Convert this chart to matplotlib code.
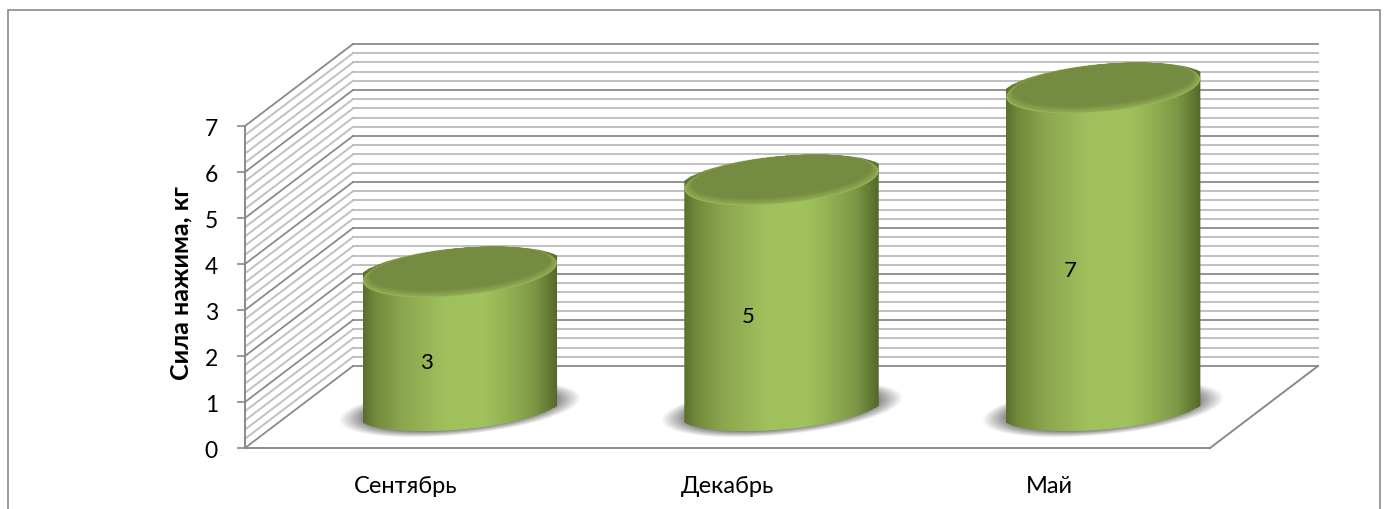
import numpy as np
import matplotlib
matplotlib.use('Agg')
import matplotlib.pyplot as plt
from matplotlib.patches import Polygon, Rectangle
from matplotlib.colors import LinearSegmentedColormap, to_rgb
from matplotlib.transforms import ScaledTranslation

plt.rcParams['font.family'] = ['Lato', 'Noto Sans', 'DejaVu Sans']

months = ['Сентябрь', 'Декабрь', 'Май']
force = [3, 5, 7]
y_ticks = [0, 1, 2, 3, 4, 5, 6, 7]
y_title = 'Сила нажима, кг'

W, H = 1387, 509
# front plane of the 3D box, in pixels
LEFT, RIGHT, BOTTOM, TOP = 245, 1210, 448, 126
DEPTH_X, DEPTH_Y = 108, 82
RX, RY = 97.4, 22.1
RY_TOP = 23.6
TILT = np.radians(5.6)
BEVEL = 3
GRID = '#8a8a8a'
GRID_MINOR = '#c0c0c0'

fig = plt.figure(figsize=(W / 100, H / 100), dpi=100)
ax = fig.add_axes([LEFT / W, (H - BOTTOM) / H, (RIGHT - LEFT) / W, (BOTTOM - TOP) / H])
ax.patch.set_alpha(0)

# data units per pixel
ux = len(months) / (RIGHT - LEFT)
uy = y_ticks[-1] / (BOTTOM - TOP)
dx, dy = DEPTH_X * ux, DEPTH_Y * uy

# chart frame
fig.add_artist(Rectangle((7.5 / W, -0.02), (1379.5 - 7.5) / W, (H - 10.5) / H + 0.02,
                         transform=fig.transFigure, fc='white', ec='#8a8a8a', lw=1.2, zorder=-5))

# walls: back wall lines and side wall diagonals, 5 steps per unit
for k in range(y_ticks[-1] * 5 + 1):
    v = k / 5
    major = k % 5 == 0
    col, lw = (GRID, 1.3) if major else (GRID_MINOR, 1.4)
    ax.plot([dx, len(months) + dx], [v + dy, v + dy], color=col, lw=lw, clip_on=False, zorder=1)
    ax.plot([0, dx], [v, v + dy], color=col, lw=lw, clip_on=False, zorder=1)

# floor
ax.plot([len(months), len(months) + dx], [0, dy], color=GRID, lw=1.4, clip_on=False, zorder=1)

body_cmap = LinearSegmentedColormap.from_list('body', [
    (0.00, '#5a6f2e'), (0.06, '#708a3c'), (0.20, '#8ba64e'), (0.42, '#a0c05c'),
    (0.62, '#a2c25e'), (0.74, '#93b253'), (0.88, '#7d9846'), (0.97, '#5f7530'), (1.00, '#536729')])
grad = np.linspace(0, 1, 256).reshape(1, -1)


def ellipse(cx, cy, a=RX, b=RY):
    t = np.linspace(0, 2 * np.pi, 240)
    ex = a * np.cos(t) * np.cos(TILT) - b * np.sin(t) * np.sin(TILT)
    ey = a * np.cos(t) * np.sin(TILT) + b * np.sin(t) * np.cos(TILT)
    return np.column_stack([cx + ex * ux, cy + ey * uy])


def soft_shadow(cx, cy):
    # blurred dark ellipse under a cylinder
    hw, hh = 150, 60
    xs, ys = np.meshgrid(np.linspace(-hw, hw, 300), np.linspace(-hh, hh, 120))
    u = xs * np.cos(TILT) + ys * np.sin(TILT)
    w = -xs * np.sin(TILT) + ys * np.cos(TILT)
    r = np.hypot(u / 114, w / 24.5)
    alpha = np.clip((1.07 - r) / 0.22, 0, 1) ** 1.0 * 0.64
    rgba = np.zeros(r.shape + (4,))
    rgba[..., :3] = 0.28
    rgba[..., 3] = alpha
    ax.imshow(rgba, extent=[cx - hw * ux, cx + hw * ux, cy - hh * uy, cy + hh * uy],
              origin='lower', aspect='auto', zorder=2, clip_on=False, interpolation='bilinear')


rim_dark = np.array(to_rgb('#768b42'))
rim_light = np.array(to_rgb('#8fa951'))

for i, (name, val) in enumerate(zip(months, force)):
    cx = i + 0.5 + dx / 2
    base = dy / 2
    top = base + val - BEVEL * uy

    soft_shadow(cx, base - 2 * uy)

    # body: gradient clipped to the outline of the cylinder
    lower = ellipse(cx, base)
    upper = ellipse(cx, top, RX, RY_TOP)
    xgrid = np.linspace(cx - 97.2 * ux, cx + 97.2 * ux, 200)
    lo_edge, up_edge = [], []
    for x in xgrid:
        lo_edge.append(lower[np.abs(lower[:, 0] - x) < 6 * ux, 1].min())
        up_edge.append(upper[np.abs(upper[:, 0] - x) < 6 * ux, 1].max())
    outline = np.vstack([np.column_stack([xgrid, lo_edge]),
                         np.column_stack([xgrid[::-1], up_edge[::-1]])])
    clip = Polygon(outline, closed=True, transform=ax.transData, fc='none', ec='none')
    ax.add_patch(clip)
    img = ax.imshow(grad, extent=[cx - 97.2 * ux, cx + 97.2 * ux, base - 30 * uy, top + 30 * uy],
                    cmap=body_cmap, aspect='auto', zorder=3)
    img.set_clip_path(clip)
    img.set_clip_box(fig.bbox)

    # top face, bevel fades from the lit edge into the flat centre
    ax.add_patch(Polygon(upper, closed=True, zorder=4, clip_on=False, fc='#9cbc5a', ec='none'))
    steps = 9
    for k in range(steps):
        f = k / (steps - 1)
        col = rim_light * (1 - f) + rim_dark * f
        shell = ellipse(cx, top + (0.35 + 0.4 * k) * uy, RX - 0.7 - 0.8 * k, RY_TOP - 0.35 - 0.4 * k)
        ax.add_patch(Polygon(shell, closed=True, zorder=4, clip_on=False, fc=col, ec='none'))

    ax.annotate(str(val), (i + 0.5, val / 2), xytext=(21 * 0.72, 16 * 0.72), textcoords='offset points',
                ha='center', va='center', fontsize=16, color='black', zorder=6,
                annotation_clip=False)

ax.set_xlim(0, len(months))
ax.set_ylim(0, y_ticks[-1])
ax.set_xticks([i + 0.5 for i in range(len(months))], months)
ax.set_yticks(y_ticks)
ax.tick_params(axis='x', length=0, pad=20, labelsize=17)
ax.tick_params(axis='y', length=5.5, width=1.2, color=GRID, pad=14, labelsize=16.5)
for lab in ax.get_yticklabels():
    lab.set_transform(lab.get_transform() + ScaledTranslation(0, -2 / 100, fig.dpi_scale_trans))
for s in ['top', 'right']:
    ax.spines[s].set_visible(False)
for s in ['left', 'bottom']:
    ax.spines[s].set_color(GRID)
    ax.spines[s].set_linewidth(1.4)

fig.text(181 / W, (H - 283) / H, y_title, rotation=90, ha='center', va='center',
         fontsize=18, fontweight='bold')

fig.savefig('out.png', dpi=100)
